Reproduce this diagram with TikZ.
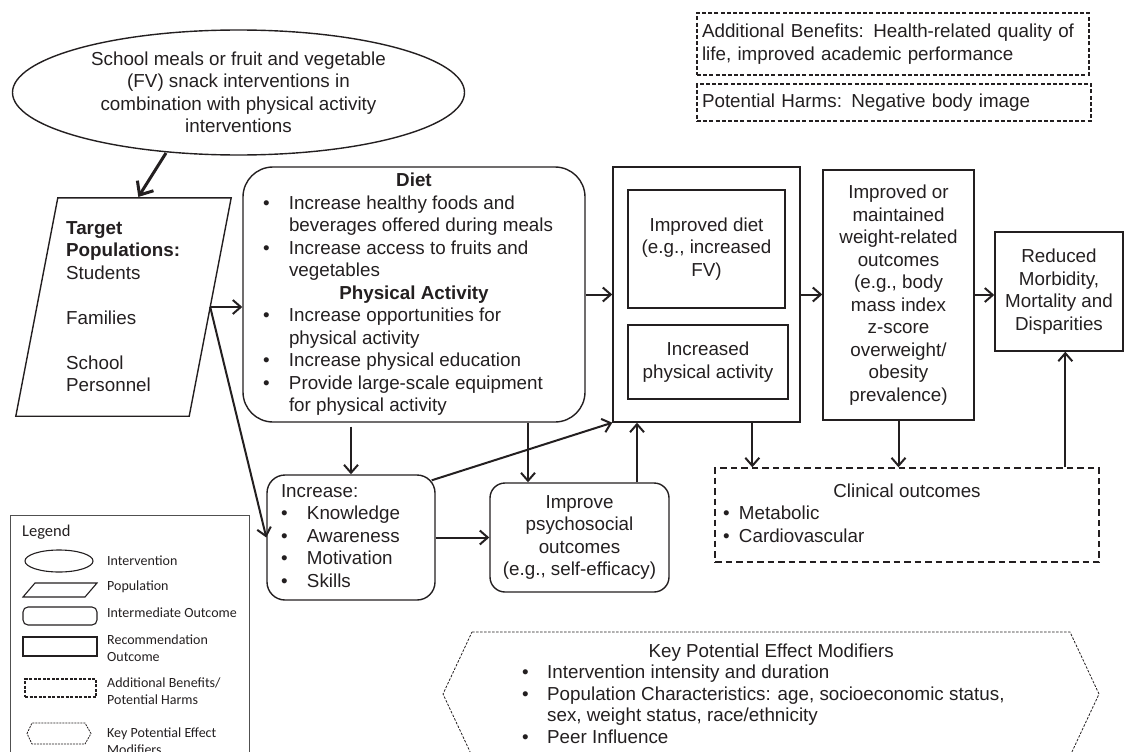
\documentclass[tikz,border=0pt]{standalone}
\usepackage{fontspec}
\setmainfont{Liberation Sans}
\newfontfamily\legendfont{Carlito}
\usepackage{array}
\usetikzlibrary{arrows.meta,calc,shapes.geometric}
\definecolor{ink}{RGB}{35,31,32}
\definecolor{leggray}{RGB}{80,80,80}
\tikzset{
  txt/.style={font=\fontsize{18.8}{22.5}\selectfont, text=ink},
  box/.style={draw=ink, line width=1.4pt, txt, inner sep=0pt, align=center},
  rbox/.style={box, rounded corners=#1},
  dbox/.style={box, line width=1.2pt, dash pattern=on 4pt off 2.2pt},
  cbox/.style={box, line width=1.4pt, dash pattern=on 6.5pt off 4pt},
  conn/.style={draw=ink, line width=2pt, -{Straight Barb[length=8pt,width=14pt]}},
  bigconn/.style={draw=ink, line width=3pt, -{Straight Barb[length=11pt,width=19pt]}},
  legtxt/.style={font=\legendfont\fontsize{14}{17}\selectfont, text=ink, align=left, inner sep=0pt},
  legshape/.style={draw=ink, line width=1.1pt, inner sep=0pt},
}
\begin{document}
\begin{tikzpicture}[x=1pt,y=-1pt]
\useasboundingbox (0,0) rectangle (1124,752);

% Intervention ellipse
\node[ellipse, box, minimum width=452pt, minimum height=125pt] (ell) at (238.5,92.5)
  {School meals or fruit and vegetable\\(FV) snack interventions in\\combination with physical activity\\interventions};

% Population parallelogram
\node[inner sep=0pt, minimum width=215pt, minimum height=218pt] (para) at (123.5,307) {};
\draw[draw=ink, line width=1.4pt] ($(para.north west)+(42,0)$) -- (para.north east)
  -- ($(para.south east)+(-42,0)$) -- (para.south west) -- cycle;
\node[txt, inner sep=0pt, align=left, anchor=north west] (paratext) at (66,221)
  {\textbf{Target}\\\textbf{Populations:}\\Students\\[22.5pt]Families\\[22.5pt]School\\Personnel};

% Diet / PA box
\node[rbox=30pt, minimum width=342pt, minimum height=255pt] (diet) at (414,294.5) {%
\begin{tabular}{@{}>{\raggedright\arraybackslash}p{26pt}@{}>{\raggedright\arraybackslash}p{276pt}@{}}
\multicolumn{2}{@{}c@{}}{\textbf{Diet}}\\
\textbullet & Increase healthy foods and\\
 & beverages offered during meals\\
\textbullet & Increase access to fruits and\\
 & vegetables\\
\multicolumn{2}{@{}c@{}}{\textbf{Physical Activity}}\\
\textbullet & Increase opportunities for\\
 & physical activity\\
\textbullet & Increase physical education\\
\textbullet & Provide large-scale equipment\\
 & for physical activity
\end{tabular}};

% Increase box
\node[rbox=18pt, minimum width=168pt, minimum height=125pt] (inc) at (351,537.5) {%
\begin{tabular}{@{}>{\raggedright\arraybackslash}p{26pt}@{}>{\raggedright\arraybackslash}p{114pt}@{}}
\multicolumn{2}{@{}l@{}}{Increase:}\\
\textbullet & Knowledge\\
\textbullet & Awareness\\
\textbullet & Motivation\\
\textbullet & Skills
\end{tabular}};

% Improve psychosocial
\node[rbox=15pt, minimum width=179pt, minimum height=109pt] (imp) at (579.5,537.5)
  {Improve\\psychosocial\\outcomes\\(e.g., self-efficacy)};

% Outer recommendation box with inner boxes
\node[box, minimum width=187pt, minimum height=255pt] (outer) at (706.5,294.5) {};
\node[box, minimum width=157pt, minimum height=118pt] (idiet) at (706.5,249)
  {Improved diet\\(e.g., increased\\FV)};
\node[box, minimum width=160pt, minimum height=74pt] (ipa) at (708,362)
  {Increased\\physical activity};

% Weight outcomes
\node[box, minimum width=151pt, minimum height=250pt] (weight) at (898.5,295)
  {Improved or\\maintained\\weight-related\\outcomes\\(e.g., body\\mass index\\z-score\\overweight/\\obesity\\prevalence)};

% Reduced morbidity
\node[box, minimum width=128pt, minimum height=119pt] (red) at (1059,291.5)
  {Reduced\\Morbidity,\\Mortality and\\Disparities};

% Clinical outcomes
\node[cbox, minimum width=384pt, minimum height=94pt] (clin) at (907,515) {%
\begin{tabular}{@{}>{\raggedright\arraybackslash}p{16pt}@{}>{\raggedright\arraybackslash}p{352pt}@{}}
\multicolumn{2}{@{}c@{}}{Clinical outcomes}\\
\textbullet & Metabolic\\
\textbullet & Cardiovascular
\end{tabular}};

% Additional benefits / harms
\node[dbox, minimum width=392pt, minimum height=62pt, text width=382pt, inner xsep=5pt, align=left] (addb) at (893,44)
  {Additional Benefits: Health-related quality of\\life, improved academic performance};
\node[dbox, minimum width=394pt, minimum height=37pt, text width=384pt, inner xsep=5pt, align=left] (harm) at (894,102.5)
  {Potential Harms: Negative body image};

% Key potential effect modifiers
\draw[draw=ink, line width=0.8pt, dash pattern=on 2.5pt off 1.5pt]
  (472,632) -- (1070,632) -- (1099,694) -- (1070,756) -- (472,756) -- (443,694) -- cycle;
\node[font=\fontsize{18.8}{21.5}\selectfont, text=ink, inner sep=0pt, anchor=north west] (kpem) at (522,642) {%
\begin{tabular}{@{}>{\raggedright\arraybackslash}p{25pt}@{}>{\raggedright\arraybackslash}p{473pt}@{}}
\multicolumn{2}{@{}c@{}}{Key Potential Effect Modifiers}\\
\textbullet & Intervention intensity and duration\\
\textbullet & Population Characteristics: age, socioeconomic status,\\
 & sex, weight status, race/ethnicity\\
\textbullet & Peer Influence
\end{tabular}};

% Connectors
\draw[bigconn, shorten >=1pt] ($(ell.center)+(-72.5,60.5)$) -- ($(para.north west)+(122,0)$);
\coordinate (paraE) at ($(para.east)+(-21,0)$);
\draw[conn] (paraE) -- (paraE -| diet.west);
\draw[conn] (paraE) -- (inc.west);
\draw[conn, shorten <=4pt] (diet.south -| inc.north) -- (inc.north);
\coordinate (impA) at ($(imp.north)+(-51.5,0)$);
\draw[conn] (diet.south -| impA) -- (impA);
\coordinate (incNE) at ($(inc.north east)+(-4,6)$);
\draw[conn] (incNE) -- (outer.south west);
\draw[conn] (inc.east) -- (imp.west);
\coordinate (impB) at ($(imp.north)+(57.5,0)$);
\draw[conn] (impB) -- (impB |- outer.south);
\draw[conn] (diet.east) -- (outer.west);
\draw[conn] (outer.east) -- (outer.east -| weight.west);
\draw[conn] (weight.east) -- (weight.east -| red.west);
\coordinate (clinA) at ($(clin.north west)+(38,0)$);
\draw[conn] (clinA |- outer.south) -- (clinA);
\draw[conn] (weight.south) -- (weight.south |- clin.north);
\coordinate (clinB) at ($(clin.north west)+(351,0)$);
\draw[conn] (clinB) -- (clinB |- red.south);

% Legend
\draw[leggray, line width=1pt] (10,762) -- (10,515) -- (249,515) -- (249,762);
\node[font=\legendfont\fontsize{16.5}{20}\selectfont, text=ink, inner sep=0pt, anchor=west] (legt) at (22,532) {Legend};
\node[legshape, ellipse, minimum width=68pt, minimum height=22pt] (lg1) at (59,561) {};
\node[legtxt, anchor=west] (lt1) at (107,561) {Intervention};
\draw[legshape] (23,597) -- (35,583) -- (97,583) -- (85,597) -- cycle;
\node[legtxt, anchor=west] (lt2) at (107,587) {Population};
\node[legshape, rounded corners=5pt, minimum width=74pt, minimum height=18pt] (lg3) at (60,616) {};
\node[legtxt, anchor=west] (lt3) at (107,613) {Intermediate Outcome};
\node[legshape, minimum width=74pt, minimum height=19pt] (lg4) at (60,646.5) {};
\node[legtxt, anchor=west] (lt4) at (107,648.5) {Recommendation\\Outcome};
\node[legshape, dash pattern=on 3pt off 1.5pt, minimum width=71pt, minimum height=18pt] (lg5) at (60.5,688) {};
\node[legtxt, anchor=west] (lt5) at (107,691.5) {Additional Benefits/\\Potential Harms};
\draw[legshape, line width=0.8pt, dash pattern=on 2pt off 1pt] (27,733.5) -- (32,723) -- (85,723) -- (91,733.5) -- (85,744) -- (32,744) -- cycle;
\node[legtxt, anchor=west] (lt6) at (107,741.5) {Key Potential Effect\\Modifiers};
\end{tikzpicture}
\end{document}
